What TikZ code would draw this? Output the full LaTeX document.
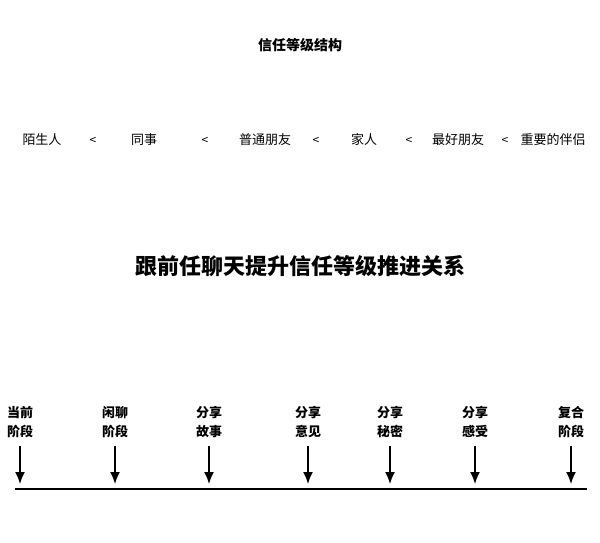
\documentclass[tikz,border=0pt]{standalone}
\usepackage{fontspec}
\setmainfont{Noto Sans CJK SC}
\usetikzlibrary{arrows.meta}

\begin{document}
\begin{tikzpicture}[x=1pt,y=-1pt]
\useasboundingbox (0,0) rectangle (600,542);
\tikzset{lvl/.style={font=\fontsize{13}{15}\selectfont, anchor=base},
	lt/.style={font=\fontsize{12}{14}\selectfont, anchor=base},
	stage/.style={font=\fontsize{13}{19}\selectfont\bfseries, align=center},
	down/.style={line width=1.6pt, -{Latex[length=12pt,width=10pt]}}}
\path (300,45) node[font=\fontsize{14}{16}\selectfont\bfseries] (top) {信任等级结构}
		(42,144) node[lvl] (stranger) {陌生人}
		(93,144) node[lt] (lt1) {<}
		(144,144) node[lvl] (colleague) {同事}
		(205,144) node[lt] (lt2) {<}
		(265,144) node[lvl] (friend) {普通朋友}
		(316,144) node[lt] (lt3) {<}
		(364,144) node[lvl] (family) {家人}
		(409,144) node[lt] (lt4) {<}
		(458,144) node[lvl] (bestfriend) {最好朋友}
		(505,144) node[lt] (lt5) {<}
		(553,144) node[lvl] (partner) {重要的伴侣}
		(300,266) node[font=\fontsize{22}{24}\selectfont\bfseries] (head) {跟前任聊天提升信任等级推进关系}
		(20,422) node[stage] (now) {当前\\阶段}
		(115,422) node[stage] (chat) {闲聊\\阶段}
		(209,422) node[stage] (story) {分享\\故事}
		(308,422) node[stage] (view) {分享\\意见}
		(390,422) node[stage] (secret) {分享\\秘密}
		(475,422) node[stage] (feel) {分享\\感受}
		(571,422) node[stage] (back) {复合\\阶段}
;

\coordinate (l) at (15,489);
\coordinate (r) at (587,489);
\draw[line width=2.5pt] (l) -- (r);

\foreach \s/\x in {now/20,chat/115,story/209,view/308,secret/390,feel/475,back/571}{
	\coordinate (\s-a) at (\x,446);
	\coordinate (\s-b) at (\x,484);
	\draw[down] (\s-a) -- (\s-b);
}

\end{tikzpicture}
\end{document}
